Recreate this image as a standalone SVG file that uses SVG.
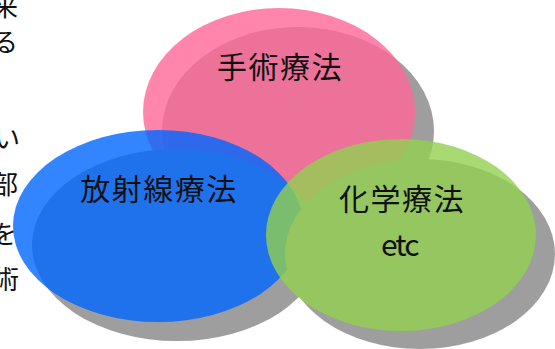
<svg xmlns="http://www.w3.org/2000/svg" width="555" height="349" viewBox="0 0 555 349">
<style>
.sh{fill:#9e9e9e}
.lbl{font-family:"Noto Sans CJK JP","Noto Sans",sans-serif;font-size:30px;fill:#111;text-anchor:middle;letter-spacing:1.5px}
.side{font-family:"Noto Sans CJK JP","Noto Sans",sans-serif;font-size:26px;fill:#111;text-anchor:end}
</style>
<rect width="555" height="349" fill="#ffffff"/>
<g id="side-text">
<text class="side" x="18" y="16">来</text>
<text class="side" x="18" y="52">る</text>
<text class="side" x="20" y="148">い</text>
<text class="side" x="18" y="194">部</text>
<text class="side" x="17" y="244">を</text>
<text class="side" x="19" y="289">術</text>
</g>
<g id="connectors"></g>
<g id="surgery">
<ellipse class="sh" cx="298" cy="131" rx="136" ry="104"/>
<ellipse cx="279" cy="112" rx="136" ry="104" fill="#ff6699" fill-opacity="0.8"/>
<text class="lbl" x="280" y="78">手術療法</text>
</g>
<g id="radiation">
<ellipse class="sh" cx="177" cy="245" rx="145" ry="96"/>
<ellipse cx="158" cy="226" rx="145" ry="96" fill="#0066ff" fill-opacity="0.8"/>
<text class="lbl" x="159" y="200">放射線療法</text>
</g>
<g id="chemo">
<ellipse class="sh" cx="420" cy="254" rx="135" ry="95"/>
<ellipse cx="401" cy="235" rx="135" ry="96" fill="#92d050" fill-opacity="0.8"/>
<text class="lbl" x="402" y="210">化学療法</text>
<text class="lbl" x="401" y="256" font-size="28" letter-spacing="0" textLength="40" lengthAdjust="spacing">etc</text>
</g>
</svg>
